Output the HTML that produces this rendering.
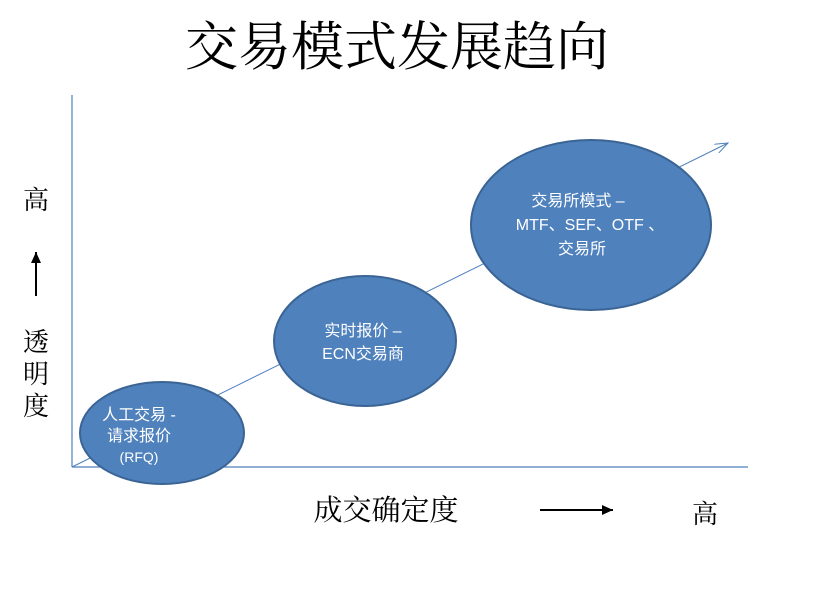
<!DOCTYPE html>
<html><head><meta charset="utf-8"><style>
body{margin:0;background:#fff;width:828px;height:590px;overflow:hidden}
text{font-family:"Liberation Sans","Noto Sans CJK SC",sans-serif}
.s{font-family:"Liberation Serif","Noto Serif CJK SC",serif}
</style></head><body>
<svg width="828" height="590" xmlns="http://www.w3.org/2000/svg">
<defs><marker id="a" markerWidth="14" markerHeight="10" refX="13" refY="5" orient="auto" markerUnits="userSpaceOnUse"><path d="M0,0 L13,5 L0,10" fill="none" stroke="#4f81bd" stroke-width="1"/></marker>
<marker id="b" markerWidth="12" markerHeight="10" refX="11" refY="5" orient="auto" markerUnits="userSpaceOnUse"><path d="M0,0 L11,5 L0,10 Z" fill="#000"/></marker></defs>
<text class="s" x="397" y="65" font-size="53" text-anchor="middle">交易模式发展趋向</text>
<line x1="72" y1="95" x2="72" y2="467" stroke="#4f81bd" stroke-width="1.2"/>
<line x1="72" y1="467" x2="748" y2="467" stroke="#4f81bd" stroke-width="1.2"/>
<line x1="72" y1="467" x2="728" y2="143" stroke="#4f81bd" stroke-width="1" marker-end="url(#a)"/>
<g fill="#4f81bd" stroke="#3a6494" stroke-width="2">
<ellipse cx="162" cy="433" rx="82" ry="51"/>
<ellipse cx="365" cy="341" rx="91" ry="65"/>
<ellipse cx="591" cy="225" rx="120" ry="85"/>
</g>
<g fill="#fff" font-size="16" text-anchor="middle">
<text x="139" y="420">人工交易 -</text><text x="139" y="441">请求报价</text><text x="139" y="462" font-size="14">(RFQ)</text>
<text x="363" y="336">实时报价 –</text><text x="363" y="359">ECN交易商</text>
<text x="578" y="206">交易所模式 –</text><text x="590" y="230">MTF、SEF、OTF 、</text><text x="582" y="254">交易所</text>
</g>
<g class="s" font-size="26" text-anchor="middle">
<text class="s" x="36" y="209">高</text>
<text class="s" x="36" y="351">透</text><text class="s" x="36" y="383">明</text><text class="s" x="36" y="415">度</text>
<text class="s" x="386" y="520" font-size="29">成交确定度</text>
<text class="s" x="705" y="523">高</text>
</g>
<line x1="36" y1="296" x2="36" y2="252" stroke="#000" stroke-width="2" marker-end="url(#b)"/>
<line x1="540" y1="510" x2="613" y2="510" stroke="#000" stroke-width="2" marker-end="url(#b)"/>
</svg>
</body></html>
